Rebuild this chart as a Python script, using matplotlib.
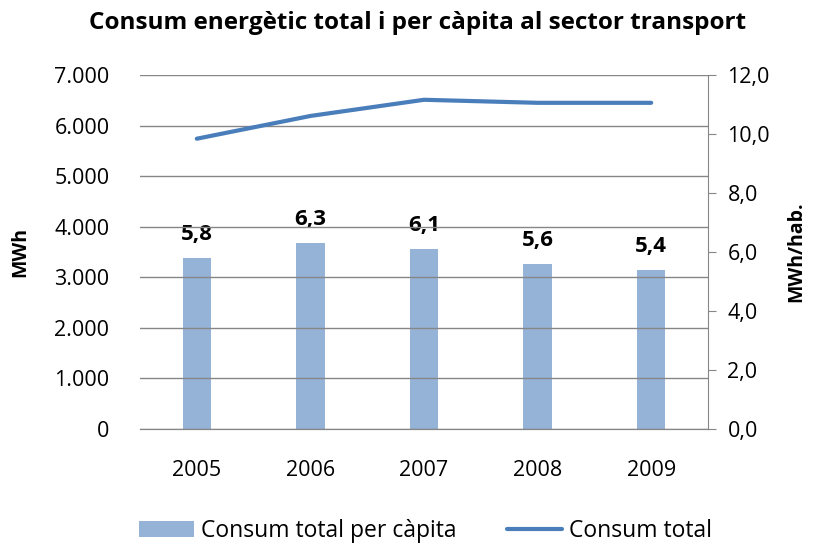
import numpy as np
import matplotlib.pyplot as plt
from matplotlib.ticker import FuncFormatter

plt.rcParams['font.family'] = ['Open Sans', 'DejaVu Sans']

years = ['2005', '2006', '2007', '2008', '2009']
per_capita = [5.8, 6.3, 6.1, 5.6, 5.4]          # MWh/hab. (right axis)
total = [5740, 6190, 6510, 6450, 6450]          # MWh (left axis)

bar_color = '#95b3d7'
line_color = '#4a7ebb'
grid_color = '#868686'

fig = plt.figure(figsize=(8.26, 5.5), dpi=100)
ax = fig.add_axes([140/826, 1 - 429/550, 568/826, 354/550])
ax2 = ax.twinx()

x = np.arange(len(years))

# bars on right axis, line on left axis
ax2.bar(x, per_capita, width=0.25, color=bar_color, zorder=2, label='Consum total per càpita')
for xi, v in zip(x, per_capita):
    ax2.text(xi, v + 0.6, f"{v:.1f}".replace('.', ','), ha='center', va='baseline',
             fontsize=16, fontweight='bold')
ln, = ax.plot(x, total, color=line_color, linewidth=3, solid_capstyle='round',
              label='Consum total')

ax.set_zorder(ax2.get_zorder() + 1)
ax.patch.set_visible(False)

ax.set_xlim(-0.5, 4.5)
ax.set_ylim(0, 7000)
ax.set_yticks(np.arange(0, 7001, 1000))
ax.yaxis.set_major_formatter(FuncFormatter(lambda v, p: f"{int(v):,}".replace(',', '.')))
ax2.set_ylim(0, 12)
ax2.set_yticks(np.arange(0, 12.1, 2))
ax2.yaxis.set_major_formatter(FuncFormatter(lambda v, p: f"{v:.1f}".replace('.', ',')))

ax.grid(axis='y', color=grid_color, linewidth=1)
ax.set_axisbelow(True)
ax.set_xticks(x)
ax.set_xticklabels(years)

for a in (ax, ax2):
    for s in ('top', 'left', 'right'):
        a.spines[s].set_visible(False)
    a.spines['bottom'].set_color(grid_color)
ax2.spines['right'].set_visible(True)
ax2.spines['right'].set_color(grid_color)

ax.tick_params(axis='y', length=0, labelsize=15.5, pad=22)
ax.tick_params(axis='x', length=0, labelsize=15.5, pad=22)
ax2.tick_params(axis='y', length=6, color=grid_color, labelsize=15.5, pad=8)

ax.set_ylabel('MWh', fontsize=14, fontweight='bold', labelpad=17)
ax2.set_ylabel('MWh/hab.', fontsize=14, fontweight='bold', labelpad=12)

fig.suptitle('Consum energètic total i per càpita al sector transport',
             fontsize=17.5, fontweight='bold', x=0.505, y=0.98)

handles = [ax2.containers[0], ln]
fig.legend(handles, ['Consum total per càpita', 'Consum total'], loc='lower center',
           ncol=2, frameon=False, fontsize=16.5, bbox_to_anchor=(0.515, -0.025),
           handlelength=2.4, columnspacing=2.2, handletextpad=0.3)

fig.savefig('out.png', dpi=100)
